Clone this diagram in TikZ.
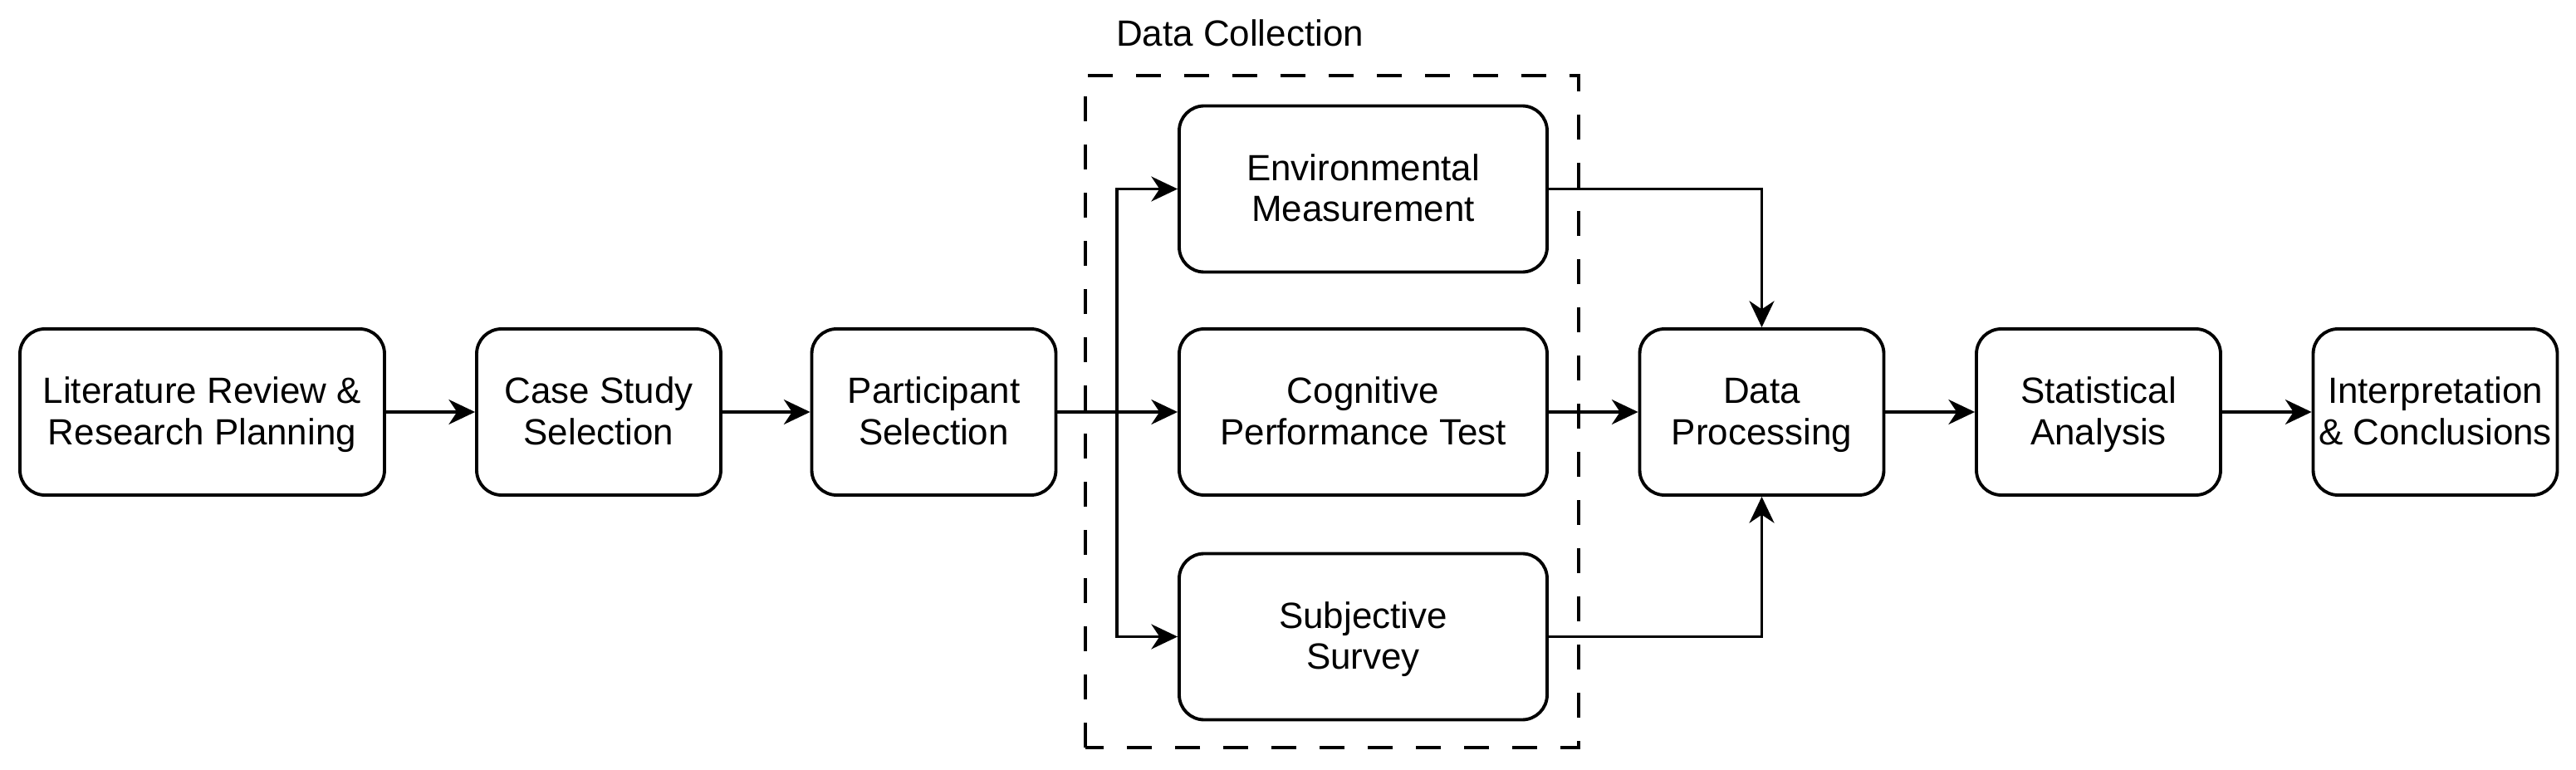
\documentclass[tikz,border=0pt]{standalone}
\usepackage{fontspec}
\setmainfont{Liberation Sans}
\usetikzlibrary{arrows.meta,positioning}

\begin{document}
\begin{tikzpicture}[x=1cm,y=1cm,>={Stealth[length=9pt,width=8.5pt,inset=2.8pt]},
  every node/.style={align=center,font=\fontsize{12.5}{14}\selectfont},
  stage/.style={draw,line width=1.1pt,rounded corners=0.3cm,fill=white,inner sep=1pt,minimum height=2cm,
    text height=30.2pt,text depth=8pt},
  flow/.style={->,line width=1.1pt}]
  \useasboundingbox (0,0) rectangle (31.02,9.26);
  % group frame
  \draw[line width=1.1pt,dash pattern=on 0.3cm off 0.28cm] (13.07,0.26) rectangle (19.01,8.35);
  \node (grp) at (14.93,8.86) {Data Collection};
  % stages
  \node[stage,minimum width=4.39cm] (lit) at (2.435,4.30) {Literature Review \&\\Research Planning};
  \node[stage,minimum width=2.94cm] (case) at (7.21,4.30) {Case Study\\Selection};
  \node[stage,minimum width=2.94cm] (part) at (11.245,4.30) {Participant\\Selection};
  \node[stage,minimum width=4.43cm] (env) at (16.415,6.985) {Environmental\\Measurement};
  \node[stage,minimum width=4.43cm] (cog) at (16.415,4.30) {Cognitive\\Performance Test};
  \node[stage,minimum width=4.43cm] (subj) at (16.415,1.595) {Subjective\\Survey};
  \node[stage,minimum width=2.94cm] (dp) at (21.215,4.30) {Data\\Processing};
  \node[stage,minimum width=2.94cm] (stat) at (25.27,4.30) {Statistical\\Analysis};
  \node[stage,minimum width=2.94cm] (interp) at (29.325,4.30) {Interpretation\\\& Conclusions};
  \coordinate (split) at (13.45,4.30);
  % connectors
  \draw[flow] (lit) -- (case);
  \draw[flow] (case) -- (part);
  \draw[flow] (part) -- (cog);
  \draw[flow] (split) |- (env);
  \draw[flow] (split) |- (subj);
  \draw[flow] (env) -| (dp);
  \draw[flow] (cog) -- (dp);
  \draw[flow] (subj) -| (dp);
  \draw[flow] (dp) -- (stat);
  \draw[flow] (stat) -- (interp);
\end{tikzpicture}
\end{document}
